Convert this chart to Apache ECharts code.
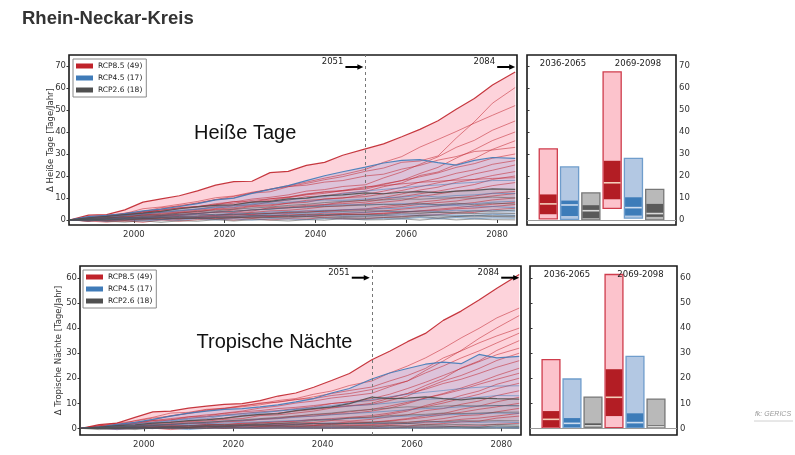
<!DOCTYPE html>
<html><head><meta charset="utf-8">
<script src="https://cdn.jsdelivr.net/npm/echarts@6/dist/echarts.min.js"></script>
<style>html,body{margin:0;padding:0;background:#fff}#c{width:795px;height:455px}</style>
</head><body><div id="c"></div>
<script>
// ---------- DATA ----------
const years = [1986,1990,1994,1998,2002,2006,2010,2014,2018,2022,2026,2030,2034,2038,2042,2046,2051,2055,2059,2063,2067,2071,2075,2079,2084];

const hotRcp85 = [
 [0,2.2,2.4,4.6,8.1,9.6,11,13.2,15.8,17.4,17.6,21.5,22.1,24.8,26.2,29.4,32.3,34.6,37.8,41.2,45.1,50.3,55.2,61.4,67.3],
 [0,1.2,1.4,3.1,3.8,5.6,6.2,7.8,9.3,10.7,12.2,12.8,15.1,16.6,18.3,19.7,22.1,23.6,26.2,26.8,29.1,37.2,44.6,53.1,60.2],
 [0,0.5,2,2.5,3.2,5,6.6,7.5,9.2,10,12.3,14,15.6,17.2,19,20.6,23,26.2,28.8,33.1,36.6,40.2,44,47.6,52],
 [0,1,0.4,2,3.6,4,5.2,6,7.4,8.2,9.5,10.3,11.4,13.1,13.8,15.2,16,19.1,21.8,25.3,28.7,33,36.2,40.8,45],
 [0,-0.5,1.1,1.4,2.2,3,3.6,4.4,5.2,6.5,6.8,8.1,9,10.6,10.9,12.2,13,15.1,16.8,20.2,21.8,25.2,27.9,32.1,36],
 [0,0.5,1,0.8,2.6,2,3.1,4,4.6,5,6.1,6.4,7.6,8,9.6,9.9,11.6,13.1,14.8,17.2,18.9,21.2,22.8,25.3,27],
 [0,0,0.6,1,1.4,2.1,2.4,3.1,3.4,4.6,4,5.6,5.9,6.6,7,8.1,9,10.2,11.8,13.6,14.9,17.1,18.4,20.2,22],
 [0,0.5,-0.2,1,0.9,1.6,2,2.6,2,3.1,3.4,4.1,4.4,5.1,6,6.4,7.3,8.1,8.9,10.6,11.8,13.1,13.9,15.6,17],
 [0,-0.6,0.5,0.4,1.1,0.9,1.6,1.4,2.1,2.6,2.4,3.1,3.4,4.1,3.9,4.6,5,6.1,6.9,8.1,8.9,10.1,10.9,12.1,13],
 [0,0,-0.5,0.1,0.5,1,0.4,1.1,1.5,1.4,2.1,1.9,2.6,2.4,3.1,2.9,3.5,4.1,4.9,5.6,6.4,7.1,7.9,9.1,10],
 [0,0.5,-0.1,-0.5,0.1,0.5,0.4,1,0.5,1.1,0.9,1.6,1.4,2.1,1.9,2.6,2.6,3.1,3.4,4.1,4.4,5.1,5.4,6.1,7],
 [0,-0.5,-1,-0.4,-1.1,0,-0.6,0.1,0.5,-0.1,0.6,0,0.5,0.4,1.1,0.4,0.5,1.1,1.4,2.1,2.4,3.1,3.4,4.6,5.3],
 [0,1.5,2.1,2.9,5.1,5.9,7.1,8.4,10.1,10.9,12.6,13.9,15.2,15.8,17.2,17.9,20,20.8,23.1,24.8,27.2,28.8,31.1,31.8,33],
 [0,0.5,1.6,1.9,2.6,3.4,4.1,4.9,6.1,6.9,8.1,8.9,10.1,11.4,12.1,13.4,14,16.1,17.9,21.1,23.9,28.1,31.9,36.1,40],
 [0,0.9,1.6,2.4,3.1,4.6,5.4,6.1,6.9,8.4,8.1,9.6,10.4,11.9,12.6,13.1,14.6,16.4,17.9,19.6,21.4,23.9,25.6,28.1,30],
 [0,0.4,1.1,1.6,1.9,2.6,3.4,3.6,4.9,5.6,6.4,6.9,7.6,8.9,9.4,10.1,10.6,11.9,13.4,15.1,16.9,18.6,20.9,22.6,25],
 [0,-0.4,0.6,1.1,0.9,1.9,2.1,2.9,3.6,3.4,4.6,5.1,5.4,6.1,6.9,7.4,8.1,9.4,10.6,11.9,13.1,14.6,16.1,18.4,20],
 [0,1.1,1.9,2.6,3.9,4.4,5.6,6.1,6.9,7.6,8.9,9.6,10.4,11.6,12.9,13.4,15.1,15.6,16.4,17.1,17.6,18.1,18.4,18.9,19.2],
 [0,0.1,-0.4,0.6,0.4,1.1,0.9,1.6,1.9,2.1,2.6,2.9,3.1,3.6,4.1,4.4,4.6,5.4,6.1,7.1,7.9,8.6,9.9,10.9,12],
 [0,-0.2,0.4,-0.1,0.6,0.1,0.9,0.6,1.1,0.9,1.4,1.6,1.9,1.6,2.1,2.4,2.6,2.9,3.6,4.1,4.9,5.6,6.4,7.1,8]
];
const hotRcp45 = [
 [0,1.5,2.1,2.9,4.1,4.9,6.1,7.4,9.1,9.9,12.1,13.9,15.6,17.9,20.1,21.9,24,25.9,27.1,27.4,26.1,24.9,27.1,28.4,28],
 [0,0.5,1.1,1.9,2.6,3.4,4.1,4.9,5.6,5.9,7.1,7.4,8.1,8.4,9.1,8.9,9.5,10.1,10.4,11.1,10.4,11.1,11.4,12.1,12],
 [0,0,0.6,0.9,1.6,1.9,2.6,2.9,3.6,3.9,4.6,4.9,5.6,5.9,6.6,6.9,7,7.1,7.4,7.1,6.9,6.6,5.9,6.1,5.6],
 [0,0.5,0.4,1.1,0.9,1.6,1.9,2.6,2.4,3.1,2.9,3.6,3.9,4.1,4.4,4.6,5,5.1,5.4,6.1,6.4,7.1,7.4,8.1,8.5],
 [0,-0.5,0.1,0.5,0.4,0.1,1,0.9,1.1,1.4,1.6,1.9,2.1,1.9,2.6,1.9,1.8,2.1,2.4,2.1,2.4,2.1,1.9,2.6,2],
 [0,0,-0.6,0.1,-0.5,0.1,-0.1,0.6,0,0.5,-0.1,0.6,0.4,0.1,0.6,0.4,0.3,0.6,0.4,1.1,0.4,1.1,0.5,0.9,0.8],
 [0,0.9,1.4,2.1,2.9,3.6,4.4,4.9,5.9,6.6,7.4,8.1,9.1,9.9,10.6,11.9,13.1,13.9,14.6,15.4,15.9,16.6,17.1,17.9,18],
 [0,0.4,0.1,0.6,0.9,1.1,1.4,1.6,1.9,2.4,2.1,2.6,2.9,3.1,3.4,3.6,3.4,3.9,3.6,4.1,3.9,4.4,4.1,4.4,4]
];
const hotRcp26 = [
 [0,1,1.6,2.4,3.1,3.9,5.1,5.9,6.6,6.9,8.1,8.4,9.6,9.9,11.1,11.4,12.3,11.9,12.6,12.9,12.4,13.1,13.4,14.1,13.9],
 [0,0.5,1.1,0.9,1.6,1.9,2.6,2.9,3.6,3.9,4.6,4.9,5.6,5.9,6.1,6.4,6.7,7.1,6.9,7.6,6.9,7.6,6.9,7.6,7.3],
 [0,0,0.6,0.9,1.1,1.4,1.6,1.9,2.6,2.4,3.1,2.9,3.6,3.4,4.1,3.9,4.2,4.1,3.9,3.6,3.4,3.1,2.9,3.1,2.9],
 [0,0.5,-0.1,0.6,0.4,1.1,0.9,1.1,1.4,1.6,1.9,2.1,1.9,2.6,2.4,2.6,2.5,2.4,3.1,2.9,3.6,3.4,4.1,3.9,4.5],
 [0,-0.5,0.1,-0.1,0.6,0.4,0.6,0.9,0.4,1.1,0.9,1.1,0.9,1.6,0.9,1.1,0.8,1.1,0.9,1.6,0.9,1.6,1.4,1.6,1.4],
 [0,0,-0.6,-1,-0.4,-1.1,-0.4,-0.6,0.1,-0.5,0.1,-0.1,-0.5,0.1,-0.1,0.6,0,0.1,0.5,-0.1,0.6,0,0.4,0.1,0],
 [0,0.6,0.9,1.6,2.1,2.4,3.1,3.9,4.1,4.9,5.4,5.9,6.6,7.1,7.9,8.4,8.9,9.1,9.6,9.4,9.9,10.1,9.9,10.4,10],
 [0,0.1,0.4,0.1,0.6,0.4,0.9,0.6,1.1,0.9,1.4,1.1,1.6,1.4,1.9,1.6,1.7,1.9,1.6,2.1,1.9,1.6,2.1,1.9,1.8]
];

const tropRcp85 = [
 [0,1.5,2.1,4.4,6.6,6.9,8.1,8.9,9.6,9.9,11.1,12.9,14.1,16.4,19.1,21.9,27.4,30.8,34.6,37.9,43.1,46.8,51.2,55.9,61.4],
 [0,1.1,1.4,3.1,4.4,6.1,6.4,7.6,7.9,9.1,9.9,11.1,11.9,13.6,14.9,17.1,18.9,22.1,24.9,28.1,31.9,36.1,39.9,44.1,48],
 [0,0.5,1.1,1.9,3.1,3.4,4.6,4.9,6.1,6.9,8.1,8.9,10.1,10.9,12.1,12.9,14,16.6,18.9,23.1,26.9,31.1,35.9,40.1,45],
 [0,0.6,1.4,2.1,3.4,5.1,5.9,7.1,7.9,8.6,9.4,10.6,11.4,12.6,13.9,15.1,16.5,18.9,21.1,23.9,28.1,30.9,34.1,36.9,40],
 [0,0,0.6,0.9,1.6,1.9,2.6,2.9,3.6,3.9,5.1,5.4,6.1,6.9,8.1,8.9,10,12.1,13.9,17.1,19.9,24.1,26.9,31.1,35],
 [0,0.5,0.4,1.1,1.9,2.6,2.9,3.6,3.9,5.1,5.4,6.1,6.9,7.6,8.4,9.1,9.5,11.1,12.9,16.1,18.9,21.1,23.9,27.1,30],
 [0,0,0.6,0.4,1.1,1.4,2.1,1.9,2.6,2.9,3.6,3.9,4.6,4.9,5.6,5.9,6.9,8.1,9.9,12.1,13.9,16.1,18.4,21.1,24],
 [0,0,-0.1,0.6,0.4,1.1,0.9,1.6,1.4,2.1,2.4,2.6,2.9,3.6,3.4,4.1,4.5,5.6,6.9,9.1,10.9,13.1,14.9,17.6,20],
 [0,0,0.6,-0.1,0.6,0.4,1.1,0.9,1.1,1.4,1.6,1.9,2.1,2.4,3.1,2.9,3.6,4.6,5.4,7.1,7.9,9.6,10.9,13.1,15],
 [0,0,0,0.6,0.4,0.6,0.4,1.1,0.9,1.1,1.4,1.6,1.4,2.1,1.9,2.6,2.5,3.1,3.9,5.1,5.9,7.6,8.9,10.6,12.4],
 [0,0,0,0.1,-0.1,0.6,0.4,0.6,0.4,1.1,0.9,1.1,0.9,1.1,1.6,1.4,1.5,2.1,2.4,3.1,3.9,5.1,5.4,6.6,8],
 [0,0,0,-0.1,0.1,0,0.1,0.6,0,0.6,0.4,0.6,0.4,0.6,0.4,0.6,0.5,1.1,0.9,1.6,1.9,2.6,2.9,4.1,4.9],
 [0,0,-0.5,0,0.1,-0.5,0,0.1,0,0.1,0,0.1,0,0.1,0,0.1,0,0.1,0.5,0.4,0.6,1,0.9,1.6,2],
 [0,1,2.1,2.9,4.1,4.9,6.1,7.4,8.1,8.9,10.1,10.4,11.6,11.9,13.1,13.9,15.5,17.1,18.9,22.1,24.9,28.1,30.9,34.1,38],
 [0,0.4,1.1,1.9,2.6,3.4,4.1,4.6,5.4,5.9,6.6,7.1,7.9,8.6,9.9,10.6,11.9,13.6,15.9,18.4,21.1,23.9,26.6,29.4,32],
 [0,0.9,1.6,2.4,3.1,3.9,4.6,5.4,5.9,6.6,7.1,7.9,8.4,9.1,9.9,10.6,11.1,12.4,13.9,15.6,17.9,19.6,21.9,24.4,27],
 [0,0.1,0.4,0.9,1.1,1.6,1.9,2.4,2.9,3.1,3.6,4.1,4.9,5.4,5.9,6.6,7.6,8.9,10.4,12.1,13.6,15.4,17.6,19.6,22],
 [0,0,0.1,0.4,0.6,0.9,1.1,1.4,1.6,1.9,2.1,2.6,2.9,3.4,3.9,4.4,5.1,6.1,7.4,8.6,10.1,11.9,13.6,15.9,18],
 [0,0,0.1,0,0.4,0.6,0.4,0.9,0.6,1.1,0.9,1.4,1.6,1.4,1.9,2.1,2.4,2.9,3.6,4.4,5.4,6.4,7.6,8.6,10],
 [0,0,0,0.1,0,0.1,0.4,0.1,0.6,0.4,0.6,0.9,0.6,1.1,0.9,1.1,1.2,1.6,1.9,2.4,2.9,3.6,4.1,4.9,6]
];
const tropRcp45 = [
 [0,0.5,1.6,2.4,3.6,4.9,6.1,6.9,7.6,7.9,8.6,9.4,10.6,11.9,14.1,15.9,19.7,22.1,23.9,25.6,26.4,25.8,29.5,28.1,28.7],
 [0,0.5,1.1,1.4,2.1,2.9,3.6,3.9,5.1,5.4,6.1,6.9,7.6,7.9,8.6,8.9,9.5,10.1,10.9,11.6,11.9,12.1,12.4,13.1,13],
 [0,0,0.6,0.9,1.1,1.4,1.6,1.9,2.1,2.4,2.6,2.9,3.1,3.4,3.6,3.9,4.1,4.6,4.9,5.1,5.4,5.6,5.9,6.1,6],
 [0,0,0.1,0.4,0.6,0.4,1.1,0.9,1.1,0.9,1.6,1.4,1.6,1.9,2.1,1.9,2,2.1,1.9,2.6,2.4,2.6,2.4,2.6,2.3],
 [0,0,0,0.1,-0.1,0.6,0,0.6,0.4,0.6,0.4,0.6,0.4,0.6,0.4,0.6,0.5,0.4,0.6,0.4,0.6,0.4,0.6,0.4,0.3],
 [0,0,-0.5,0,0.1,0,-0.5,0,0.1,0,0,0.1,0,0,0.1,0,0,0.1,0,0,0.1,0,0,0.1,0],
 [0,0.6,1.1,1.9,2.4,3.1,3.9,4.6,5.1,5.9,6.4,6.9,7.6,8.4,9.1,10.1,11.4,12.6,13.6,14.4,15.1,15.9,16.4,16.9,17],
 [0,0.1,0.6,0.9,1.4,1.6,2.1,2.4,2.9,3.1,3.6,3.9,4.4,4.9,5.4,5.9,6.4,6.9,7.4,7.9,8.1,8.6,8.9,9.1,9]
];
const tropRcp26 = [
 [0,0.5,1.1,1.4,2.1,2.4,3.1,3.4,4.1,4.9,5.6,5.9,7.1,7.9,8.6,9.9,12.5,11.9,12.1,12.6,11.9,11.4,12.1,11.9,11.7],
 [0,0,0.6,0.4,1.1,0.9,1.1,1.4,1.6,1.4,2.1,1.9,2.1,1.9,2.1,1.9,2,2.1,1.9,1.6,1.4,1.6,1.4,1.6,1.3],
 [0,0,0.1,0.6,0.4,0.6,0.4,0.6,1.1,0.9,1.1,0.9,1.1,0.9,1.1,0.9,1,1.1,0.9,1.1,0.9,0.6,0.4,1.1,0.7],
 [0,0,0.1,-0.1,0.6,0.4,0.6,1.1,0.9,1.6,1.4,2.1,2.4,3.1,3.4,4.1,4.5,5.1,5.4,5.6,6.1,5.9,6.1,6.4,6.5],
 [0,0,0,0.1,0,0.1,0,0.1,0.6,0.1,0.6,0.4,0.6,0.4,0.6,0.4,0.5,0.6,0.4,0.6,0.4,0.6,0.4,0.6,0.5],
 [0,-0.5,0,-0.5,0.1,0,0.1,0,0,0.1,0,0,0.1,0,0,0.1,0,0,0.1,0,0,0.1,0,0,0],
 [0,0.4,0.6,0.9,1.4,1.6,2.1,2.4,2.9,3.4,3.9,4.4,4.9,5.6,6.1,6.9,7.6,8.1,8.6,8.4,8.9,9.1,8.9,9.1,9],
 [0,0,0.1,0.4,0.1,0.6,0.4,0.9,0.6,1.1,1.4,1.1,1.6,1.9,1.6,2.1,2.4,2.6,2.4,2.9,2.6,3.1,2.9,3.1,3]
];

// bar panels: [min, p17, median, p83, max] for RCP8.5, RCP4.5, RCP2.6 (2036-2065), then (2069-2098)
const hotBars = [
 [0.5,2.6,7.3,11.6,32.3],[0.3,1.8,6.8,8.8,24.1],[0,0.8,4.2,6.7,12.3],
 [5.3,9.4,16.9,26.9,67.3],[0.8,2.0,5.6,10.3,28.0],[0,1.4,2.9,7.3,13.9]
];
const tropBars = [
 [0.2,0.5,3.6,6.9,27.4],[0,0.4,2.0,4.1,19.7],[0,0.3,1.0,2.0,12.5],
 [0.3,4.9,12.4,23.6,61.4],[0,0.3,2.3,6.0,28.7],[0,0.3,0.7,1.3,11.7]
];
const periods = ['2036-2065','2069-2098'];
const legendNames = ['RCP8.5 (49)','RCP4.5 (17)','RCP2.6 (18)'];
const xTicks = [2000,2020,2040,2060,2080];
const yTicksHot = [0,10,20,30,40,50,60,70];
const yTicksTrop = [0,10,20,30,40,50,60];
const markYears = [2051,2084];

// ---------- STYLES ----------
const lineCol = ['#c0232b','#3f7bb8','#4f4f4f'];
const fillCol = ['rgba(250,140,160,0.38)','rgba(110,140,215,0.22)','rgba(120,120,120,0.18)'];
const barLight = ['#fcc3cc','#b3c8e3','#b9b9b9'];
const barBorder = ['#cf3c4c','#6f9dcc','#777777'];
const barDark = ['#b31d24','#3d7cb9','#5a5a5a'];
const barMed = ['#f4cdb9','#cddcef','#d9d9d9'];
const tickFont = {fontFamily:'DejaVu Sans', fontSize:8.5, color:'#333'};

const chart = echarts.init(document.getElementById('c'), null, {renderer:'canvas'});

function envelope(groups, idx, ax) {
  const up = years.map((y,i)=>Math.max(...groups.map(g=>g[i])));
  const lo = years.map((y,i)=>Math.min(...groups.map(g=>g[i])));
  return {
    type:'custom', xAxisIndex:ax, yAxisIndex:ax, silent:true, z:1,
    data:[[years[0], 0]],
    renderItem(params, api) {
      const pts = up.map((v,i)=>api.coord([years[i], v]));
      for (let i = lo.length-1; i >= 0; i--) pts.push(api.coord([years[i], lo[i]]));
      return {type:'polygon', shape:{points:pts}, style:{fill:fillCol[idx], stroke:null}};
    }
  };
}
function lines(groups, idx, ax) {
  return groups.map((g,k)=>({
    type:'line', name: k===0 ? legendNames[idx] : ('s'+ax+idx+k),
    xAxisIndex:ax, yAxisIndex:ax, silent:true, symbol:'none', showSymbol:false,
    z: 2+idx,
    data: years.map((y,i)=>[y, g[i]]),
    itemStyle:{color:lineCol[idx]},
    lineStyle:{color:lineCol[idx], width: k===0 ? 1.2 : 0.75, opacity: k===0 ? 0.9 : 0.7}
  }));
}
function barsSeries(bars, ax) {
  return {
    type:'custom', xAxisIndex:ax, yAxisIndex:ax, silent:true, z:3,
    data: bars.map((b,i)=>[i+1, ...b]),
    renderItem(params, api) {
      const i = params.dataIndex % 3;
      const x = api.value(0);
      const hw = api.size([0.85,0])[0]/2;
      const cx = api.coord([x,0])[0];
      const yv = [1,2,3,4,5].map(d=>api.coord([x, api.value(d)])[1]);
      return {type:'group', children:[
        {type:'rect', shape:{x:cx-hw, y:yv[4], width:2*hw, height:yv[0]-yv[4]}, style:{fill:barLight[i], stroke:barBorder[i], lineWidth:1.3}},
        {type:'rect', shape:{x:cx-hw+0.7, y:yv[3], width:2*hw-1.4, height:yv[1]-yv[3]}, style:{fill:barDark[i]}},
        {type:'line', shape:{x1:cx-hw+0.7, y1:yv[2], x2:cx+hw-0.7, y2:yv[2]}, style:{stroke:barMed[i], lineWidth:1.6}}
      ]};
    },
    markLine:{silent:true, symbol:'none', label:{show:false}, lineStyle:{color:'#9a9a9a', width:1, type:'solid'}, data:[{yAxis:0}]}
  };
}

const grids = [
  {left:69, top:55, width:448, height:170},
  {left:527, top:55, width:149, height:170},
  {left:80, top:266, width:441, height:169},
  {left:530, top:266, width:147, height:169}
].map(g=>Object.assign({show:true, borderColor:'#1a1a1a', borderWidth:1.6, backgroundColor:'transparent', containLabel:false}, g));

function lineX(ax){ return {gridIndex:ax, type:'value', min:1985.7, max:2084.4, axisLine:{show:false}, splitLine:{show:false},
  axisTick:{show:true, inside:false, length:3, customValues:xTicks, lineStyle:{color:'#333'}},
  axisLabel:Object.assign({customValues:xTicks, margin:5, formatter:v=>String(v)}, tickFont)}; }
function barX(ax){ return {gridIndex:ax, type:'value', min:0, max:7, show:false}; }
function yAx(ax, min, max, ticks, pos, name, gap){
  return {gridIndex:ax, type:'value', min, max, position:pos, axisLine:{show:false}, splitLine:{show:false},
    axisTick:{show:true, inside:false, length:2.5, customValues:ticks, lineStyle:{color:'#333'}},
    axisLabel:Object.assign({customValues:ticks, margin:3, formatter:v=>String(v)}, tickFont),
    name:name||'', nameLocation:'middle', nameGap:gap||0, nameMoveOverlap:false,
    nameTextStyle:{fontFamily:'DejaVu Sans', fontSize:8.5, color:'#333'}};
}

const series = [];
series.push(envelope(hotRcp85,0,0), envelope(hotRcp45,1,0), envelope(hotRcp26,2,0));
series.push(...lines(hotRcp85,0,0), ...lines(hotRcp45,1,0), ...lines(hotRcp26,2,0));
series.push(envelope(tropRcp85,0,2), envelope(tropRcp45,1,2), envelope(tropRcp26,2,2));
series.push(...lines(tropRcp85,0,2), ...lines(tropRcp45,1,2), ...lines(tropRcp26,2,2));
// dashed marker lines
[0,2].forEach(ax=>series.push({type:'line', xAxisIndex:ax, yAxisIndex:ax, data:[], silent:true,
  markLine:{silent:true, symbol:'none', label:{show:false}, lineStyle:{color:'#777', width:1, type:[3,3]}, data:[{xAxis:markYears[0]}]}}));
series.push(barsSeries(hotBars,1), barsSeries(tropBars,3));

const legendBase = {orient:'vertical', data:legendNames, icon:'rect', itemWidth:17, itemHeight:5, itemGap:4,
  textStyle:{fontFamily:'DejaVu Sans', fontSize:7.5, color:'#222'}, backgroundColor:'#fff', borderColor:'#8a8a8a',
  borderWidth:1, padding:[3,4,3,3], selectedMode:false, z:10};

chart.setOption({
  animation:false,
  backgroundColor:'#fff',
  grid:grids,
  xAxis:[lineX(0), barX(1), lineX(2), barX(3)],
  yAxis:[
    yAx(0,-2.3,75,yTicksHot,'left','\u0394 Hei\u00dfe Tage [Tage/Jahr]',14),
    yAx(1,-2.3,75,yTicksHot,'right'),
    yAx(2,-2.65,64.8,yTicksTrop,'left','\u0394 Tropische N\u00e4chte [Tage/Jahr]',17),
    yAx(3,-2.65,64.8,yTicksTrop,'right')
  ],
  legend:[Object.assign({left:73, top:59}, legendBase), Object.assign({left:83, top:270}, legendBase)],
  series
});

// ---------- annotations ----------
function arrow(x2, y) {
  return [
    {type:'line', shape:{x1:x2-18, y1:y, x2:x2-5, y2:y}, style:{stroke:'#000', lineWidth:2}, z:20},
    {type:'polygon', shape:{points:[[x2-6,y-2.8],[x2,y],[x2-6,y+2.8]]}, style:{fill:'#000'}, z:20}
  ];
}
const g = [];
g.push({type:'text', left:22, top:9, style:{text:'Rhein-Neckar-Kreis', fontFamily:'Liberation Sans', fontWeight:'bold', fontSize:18.5, fill:'#333'}});
g.push({type:'text', x:194, y:123.5, style:{text:'Hei\u00dfe Tage', fontFamily:'Liberation Sans', fontSize:20, fill:'#111', textVerticalAlign:'alphabetic'}, z:20});
g.push({type:'text', x:196.5, y:332.5, style:{text:'Tropische N\u00e4chte', fontFamily:'Liberation Sans', fontSize:20, fill:'#111', textVerticalAlign:'alphabetic'}, z:20});
[[0,62,67],[2,273,277.7]].forEach(([ax,ty,ay])=>{
  markYears.forEach((yr,k)=>{
    let px = chart.convertToPixel({xAxisIndex:ax}, yr);
    const tip = k===0 ? px-2 : px;
    g.push(...arrow(tip, ay));
    g.push({type:'text', x:tip-20, y:ty, style:{text:String(yr), fontFamily:'DejaVu Sans', fontSize:8.5, fill:'#222', textAlign:'right', textVerticalAlign:'middle'}, z:20});
  });
});
[[563,64],[638,64]].forEach((p,k)=>g.push({type:'text', x:p[0], y:p[1], style:{text:periods[k], fontFamily:'DejaVu Sans', fontSize:8.5, fill:'#222', textAlign:'center', textVerticalAlign:'middle'}, z:20}));
[[567,275],[640.5,275]].forEach((p,k)=>g.push({type:'text', x:p[0], y:p[1], style:{text:periods[k], fontFamily:'DejaVu Sans', fontSize:8.5, fill:'#222', textAlign:'center', textVerticalAlign:'middle'}, z:20}));
g.push({type:'text', x:773, y:414, style:{text:'fk: GERICS', fontFamily:'Liberation Sans', fontStyle:'italic', fontSize:7, fill:'#9a9a9a', textAlign:'center', textVerticalAlign:'middle'}});
g.push({type:'line', shape:{x1:754, y1:421, x2:793, y2:421}, style:{stroke:'#d0d0d0', lineWidth:1}});
chart.setOption({graphic:g});
</script></body></html>
